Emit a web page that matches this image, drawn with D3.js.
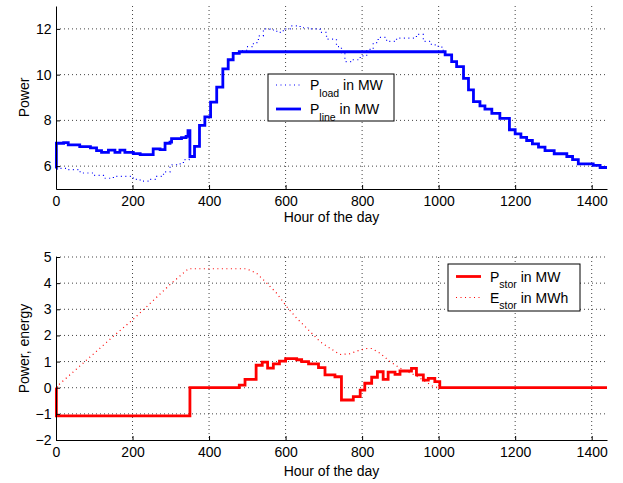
<!DOCTYPE html>
<html lang="en">
<head>
<meta charset="utf-8">
<title>power and storage</title>
<script src="https://cdn.jsdelivr.net/npm/d3@7"></script>
<style>
  body { margin: 0; background: #fff; }
  svg { font-family: "Liberation Sans", Arial, Helvetica, sans-serif; }
  .grid line { stroke: #444; stroke-width: 1; stroke-dasharray: 1,3; }
  .legend text { white-space: pre; }
</style>
</head>
<body>
<div id="chart"></div>
<script>
// ticks
var hourTicks = [0, 200, 400, 600, 800, 1000, 1200, 1400];
var powerTicks = [6, 8, 10, 12];
var storTicks = [-2, -1, 0, 1, 2, 3, 4, 5];

// [hour, MW]
var pLoad = [[0,5.9],[28,5.85],[63,5.7],[98,5.6],[124,5.47],[150,5.55],[176,5.55],[202,5.42],
  [220,5.34],[246,5.42],[263,5.55],[281,5.75],[298,6.06],[315,6.1],[333,6.28],[348,6.4],
  [350,6.42],[362,6.86],[375,7.78],[389,8.15],[404,8.8],[420,9.45],[436,10.25],[450,10.65],
  [463,10.93],[481,11.05],[498,11.22],[516,11.4],[529,11.69],[542,12.0],[559,11.95],[577,11.85],
  [594,12.0],[612,12.13],[638,12.05],[664,12.0],[690,11.85],[707,11.55],[733,11.22],[746,10.93],
  [755,10.57],[777,10.65],[795,10.82],[812,11.1],[829,11.4],[842,11.63],[864,11.45],[890,11.6],
  [916,11.6],[942,11.76],[960,11.45],[981,11.3],[999,11.2],[1012,11.0],[1017,10.86],[1034,10.57]];

var pLine = [[0,5.9],[1,7.0],[20,7.03],[32,6.93],[62,6.85],[90,6.8],[106,6.68],[119,6.6],
  [137,6.7],[154,6.6],[167,6.7],[180,6.6],[202,6.55],[220,6.5],[254,6.75],[272,6.72],
  [285,7.0],[298,7.05],[302,7.2],[328,7.25],[340,7.3],[345,7.55],[350,6.42],[362,6.86],
  [375,7.78],[389,8.15],[404,8.8],[420,9.45],[436,10.25],[450,10.65],[463,10.93],[479,11.0],
  [1017,10.86],[1034,10.57],[1047,10.35],[1065,9.84],[1078,9.33],[1091,8.82],[1108,8.63],
  [1121,8.49],[1139,8.31],[1160,8.09],[1185,7.59],[1200,7.41],[1215,7.26],[1230,7.12],
  [1245,6.97],[1261,6.83],[1278,6.68],[1302,6.54],[1335,6.42],[1350,6.28],[1365,6.1],
  [1404,6.03],[1422,5.94],[1440,5.94]];

var pStor = [[0,0],[1,-1.08],[350,0],[479,0.1],[494,0.32],[523,0.86],[539,0.98],[553,0.75],
  [568,0.91],[584,1.02],[600,1.11],[629,1.07],[642,1.0],[660,0.91],[686,0.77],[703,0.49],
  [729,0.42],[746,-0.47],[777,-0.34],[795,-0.09],[807,0.17],[825,0.4],[840,0.61],[855,0.32],
  [868,0.6],[886,0.51],[899,0.64],[929,0.74],[942,0.49],[960,0.29],[973,0.36],[990,0.23],
  [1003,0],[1440,0]];

var eStor = [[0,0],[10,0.15],[154,2.02],[202,2.62],[250,3.28],[302,4.0],[346,4.55],[498,4.55],
  [524,4.38],[551,4.0],[577,3.61],[603,3.1],[629,2.66],[664,2.15],[690,1.76],[716,1.51],
  [742,1.27],[768,1.3],[790,1.42],[812,1.5],[825,1.5],[847,1.32],[873,1.0],[899,0.75],
  [925,0.57],[942,0.45],[964,0.25],[985,0.05],[1000,0],[1440,0]];

var svg = d3.select("#chart").append("svg")
    .attr("width", 623)
    .attr("height", 483);

var x = d3.scaleLinear().domain([0, 1440]).range([56, 607]);
var fmt = d3.format("d");

function drawPanel(p) {
  var y = d3.scaleLinear().domain(p.yDomain).range([p.bottom, p.top]);
  var g = svg.append("g");

  // dotted grid
  g.append("g").attr("class", "grid")
    .selectAll("line")
    .data(hourTicks.filter(function(d) { return d > 0; }))
    .enter().append("line")
      .attr("x1", function(d) { return x(d); })
      .attr("x2", function(d) { return x(d); })
      .attr("y1", p.top).attr("y2", p.bottom);
  g.append("g").attr("class", "grid")
    .selectAll("line")
    .data(p.yTicks.filter(function(d) { return d > p.yDomain[0]; }))
    .enter().append("line")
      .attr("x1", 56).attr("x2", 607)
      .attr("y1", function(d) { return y(d); })
      .attr("y2", function(d) { return y(d); });

  // series
  p.series.forEach(function(s) {
    var line = d3.line()
        .x(function(d) { return x(d[0]); })
        .y(function(d) { return y(d[1]); })
        .curve(s.step ? d3.curveStepAfter : d3.curveLinear);
    g.append("path")
        .datum(s.data)
        .attr("fill", "none")
        .attr("stroke", s.color)
        .attr("stroke-width", s.width)
        .attr("stroke-dasharray", s.dash || null)
        .attr("d", line);
  });

  // axes
  var xa = g.append("g")
      .attr("transform", "translate(0," + p.bottom + ")")
      .call(d3.axisBottom(x).tickValues(hourTicks).tickFormat(fmt)
        .tickSizeInner(-4).tickSizeOuter(0).tickPadding(7.5));
  var ya = g.append("g")
      .attr("transform", "translate(56,0)")
      .call(d3.axisLeft(y).tickValues(p.yTicks).tickFormat(fmt)
        .tickSizeInner(-4).tickSizeOuter(0).tickPadding(4.5));
  [xa, ya].forEach(function(a) {
    a.attr("font-family", null).attr("font-size", 14);
    a.selectAll("text").attr("fill", "#000");
    a.selectAll("line, path").attr("stroke", "#000");
  });

  g.append("text")
      .attr("x", 331.5).attr("y", p.bottom + p.xLabelGap)
      .attr("text-anchor", "middle")
      .attr("font-size", 14)
      .text("Hour of the day");
  g.append("text")
      .attr("transform", "translate(29," + ((p.top + p.bottom) / 2) + ") rotate(-90)")
      .attr("text-anchor", "middle")
      .attr("font-size", 14)
      .text(p.yLabel);

  // legend
  var lg = g.append("g").attr("class", "legend");
  lg.append("rect")
      .attr("x", p.legend.x).attr("y", p.legend.y)
      .attr("width", p.legend.w).attr("height", p.legend.h)
      .attr("fill", "#fff").attr("stroke", "#000").attr("stroke-width", 1);
  p.legend.items.forEach(function(it, i) {
    var s = p.series[it.series];
    var ly = p.legend.y + p.legend.rowY[i];
    lg.append("line")
        .attr("x1", p.legend.x + 8).attr("x2", p.legend.x + 33)
        .attr("y1", ly).attr("y2", ly)
        .attr("stroke", s.color).attr("stroke-width", s.width)
        .attr("stroke-dasharray", s.dash || null);
    var t = lg.append("text")
        .attr("x", p.legend.x + 42).attr("y", ly + 5)
        .attr("font-size", 14);
    t.append("tspan").text(it.sym);
    t.append("tspan").attr("dy", 6.5).attr("font-size", 10.5).text(it.sub);
    t.append("tspan").attr("dy", -6.5).text(" " + it.unit);
  });
}

drawPanel({
  top: 6, bottom: 189, yDomain: [5, 13], yTicks: powerTicks,
  yLabel: "Power", xLabelGap: 32.5,
  series: [
    {data: pLoad, color: "#0000ff", width: 1.2, dash: "1,3.5", step: true},
    {data: pLine, color: "#0000ff", width: 2.8, step: true}
  ],
  legend: {x: 268, y: 74, w: 126, h: 47, rowY: [11, 35],
    items: [{series: 0, sym: "P", sub: "load", unit: "in MW"},
            {series: 1, sym: "P", sub: "line", unit: "in MW"}]}
});

drawPanel({
  top: 257, bottom: 440, yDomain: [-2, 5], yTicks: storTicks,
  yLabel: "Power, energy", xLabelGap: 35.5,
  series: [
    {data: eStor, color: "#ff0000", width: 1.2, dash: "1,3.5"},
    {data: pStor, color: "#ff0000", width: 2.8, step: true}
  ],
  legend: {x: 448, y: 264, w: 132, h: 47, rowY: [12.5, 33.5],
    items: [{series: 1, sym: "P", sub: "stor", unit: "in MW"},
            {series: 0, sym: "E", sub: "stor", unit: "in MWh"}]}
});
</script>
</body>
</html>
